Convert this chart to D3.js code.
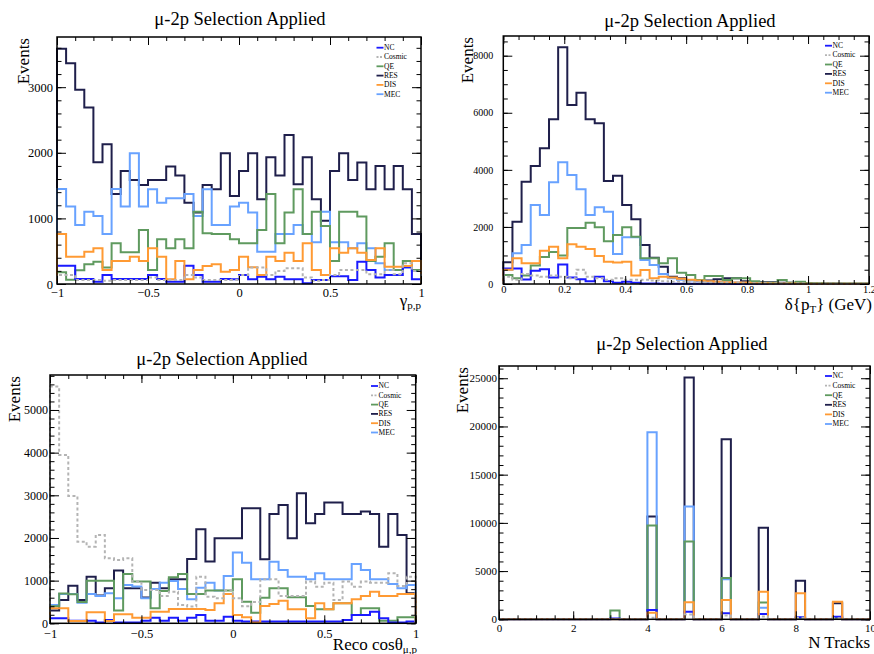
<!DOCTYPE html>
<html>
<head>
<meta charset="utf-8">
<script src="https://cdn.jsdelivr.net/npm/d3@7"></script>
<style>
  body { margin: 0; background: #fff; }
  #chart { width: 874px; height: 654px; }
  svg { display: block; }
  svg text { font-family: "Liberation Serif", "DejaVu Serif", "Times New Roman", serif !important; fill: #000; }
</style>
</head>
<body>
<div id="chart"></div>
<script>
// ---- data (events per bin) ----
const seriesNames = ["NC", "Cosmic", "QE", "RES", "DIS", "MEC"];

// panel 1: gamma_{p,p}, 40 bins from -1 to 1
const gamNC = [280, 280, 76, 76, 36, 137, 76, 76, 76, 76, 137, 76, 36, 36, 280, 137, 36, 36, 76, 71,
  137, 71, 110, 71, 110, 71, 71, 10, 60, 60, 120, 120, 60, 340, 214, 100, 137, 137, 254, 71];
const gamCosmic = [137, 137, 60, 60, 60, 50, 60, 60, 60, 60, 100, 60, 60, 60, 137, 100, 60, 60, 60, 60,
  137, 250, 250, 137, 200, 240, 240, 100, 50, 60, 137, 214, 214, 214, 150, 150, 214, 150, 315, 200];
const gamQE = [180, 65, 210, 300, 340, 250, 620, 483, 483, 824, 214, 681, 544, 681, 544, 1103, 773, 763, 763, 681,
  620, 620, 824, 1373, 620, 1088, 1444, 763, 1103, 885, 351, 1103, 1103, 1027, 351, 417, 620, 214, 351, 214];
const gamRES = [3585, 3366, 2960, 2690, 1856, 2130, 1373, 1724, 1586, 1510, 1586, 1586, 1790, 1653, 1240, 1088, 1510, 1444, 1993, 1342,
  1724, 1993, 1292, 1932, 1653, 2273, 1520, 1932, 1292, 966, 1724, 1993, 1586, 1851, 1444, 1800, 1444, 1800, 1444, 763];
const gamDIS = [763, 417, 417, 493, 544, 214, 351, 351, 417, 351, 544, 417, 71, 351, 71, 214, 275, 300, 188, 214,
  417, 254, 137, 417, 351, 478, 351, 620, 214, 137, 544, 478, 544, 478, 366, 544, 264, 264, 275, 351];
const gamMEC = [1449, 1180, 900, 1103, 1037, 763, 1449, 1180, 1993, 1180, 1444, 1240, 1307, 1307, 1373, 1037, 1444, 900, 900, 1180,
  1240, 1088, 493, 493, 763, 763, 900, 763, 636, 1103, 636, 636, 544, 620, 544, 315, 214, 214, 250, 200];

// panel 2: delta pT, 40 bins from 0 to 1.2 GeV
const dptNC = [540, 540, 160, 460, 520, 230, 680, 230, 170, 100, 257, 100, 47, 82, 40, 20, 20, 10, 10, 5,
  5, 5, 5, 5, 5, 0, 0, 0, 0, 0, 0, 0, 0, 0, 0, 0, 0, 0, 0, 0];
const dptCosmic = [250, 150, 350, 300, 250, 300, 250, 200, 500, 250, 200, 150, 200, 150, 150, 150, 120, 100, 80, 80,
  60, 60, 50, 50, 40, 40, 30, 30, 30, 20, 20, 20, 20, 10, 10, 10, 10, 10, 10, 10];
const dptQE = [315, 200, 300, 650, 950, 1120, 1000, 1960, 1960, 2149, 1986, 1500, 1717, 1986, 1658, 899, 899, 724, 899, 397,
  315, 140, 280, 280, 140, 199, 199, 100, 40, 40, 140, 40, 80, 30, 30, 20, 20, 20, 20, 20];
const dptRES = [760, 2184, 3586, 4135, 4754, 5770, 8293, 6272, 6704, 5770, 5630, 3609, 3796, 2768, 2266, 1367, 923, 607, 257, 199,
  140, 120, 120, 164, 199, 200, 100, 60, 60, 60, 40, 40, 30, 30, 20, 20, 20, 10, 10, 10];
const dptDIS = [500, 899, 724, 724, 1168, 1308, 899, 1390, 1308, 1226, 981, 783, 750, 783, 300, 490, 200, 250, 230, 180,
  150, 120, 100, 80, 60, 50, 50, 30, 30, 20, 20, 20, 10, 10, 10, 10, 5, 5, 5, 5];
const dptMEC = [500, 1075, 1367, 2768, 2418, 3562, 4263, 3819, 3317, 2418, 2686, 2534, 1051, 1635, 1635, 841, 666, 350, 200, 150,
  120, 100, 80, 60, 60, 50, 40, 40, 30, 20, 20, 20, 10, 10, 10, 10, 5, 5, 5, 5];

// panel 3: reco cos(theta_mu,p), 40 bins from -1 to 1
const cosNC = [117, 117, 62, 62, 62, 16, 78, 16, 16, 16, 62, 133, 62, 133, 62, 133, 195, 62, 62, 156,
  62, 40, 40, 40, 40, 40, 40, 40, 40, 40, 40, 40, 78, 195, 195, 273, 117, 20, 20, 40];
const cosCosmic = [5548, 3946, 2985, 1914, 1797, 2071, 1524, 1485, 1524, 977, 781, 781, 641, 742, 430, 391, 1094, 625, 586, 781,
  586, 400, 500, 1031, 1031, 640, 640, 640, 977, 859, 953, 547, 977, 859, 977, 953, 953, 1172, 875, 1094];
const cosQE = [400, 700, 680, 500, 1000, 1000, 1000, 300, 1156, 977, 977, 352, 758, 1078, 1156, 688, 688, 766, 766, 766,
  1031, 508, 250, 600, 820, 820, 609, 609, 406, 328, 328, 469, 469, 195, 352, 352, 62, 62, 141, 141];
const cosRES = [300, 547, 883, 547, 1094, 650, 820, 1235, 820, 820, 602, 953, 820, 1031, 1031, 1508, 2204, 1446, 1993, 1993,
  1993, 2696, 2696, 1500, 2563, 2774, 1993, 3047, 2344, 2563, 2829, 2829, 2563, 2563, 2618, 2563, 1797, 2563, 2071, 703];
const cosDIS = [350, 350, 55, 55, 258, 258, 55, 211, 211, 133, 133, 273, 273, 336, 336, 336, 336, 313, 469, 688,
  195, 141, 16, 406, 453, 531, 328, 328, 117, 469, 328, 469, 469, 563, 641, 742, 641, 641, 688, 688];
const cosMEC = [430, 688, 688, 484, 688, 640, 703, 586, 898, 860, 586, 805, 953, 992, 805, 563, 836, 953, 766, 1110,
  1657, 1422, 1031, 1031, 1445, 1250, 1094, 1094, 1031, 1172, 1031, 1031, 1031, 1391, 1250, 1031, 1031, 922, 820, 898];

// panel 4: N tracks, 40 bins from 0 to 10 (only whole numbers filled)
const trkN = [3, 4, 5, 6, 7, 8, 9];
const trkNC = [80, 968, 795, 622, 553, 207, 277];
const trkCosmic = [0, 150, 500, 400, 300, 150, 100];
const trkQE = [900, 9716, 8058, 4288, 1730, 150, 100];
const trkRES = [0, 10650, 25070, 18670, 9500, 4011, 1660];
const trkDIS = [0, 692, 1763, 2005, 2870, 2697, 1833];
const trkMEC = [0, 19400, 11690, 4150, 1200, 100, 50];

// tick labels
const gamXTicks = [-1, -0.5, 0, 0.5, 1], gamYTicks = [0, 1000, 2000, 3000];
const dptXTicks = [0, 0.2, 0.4, 0.6, 0.8, 1, 1.2], dptYTicks = [0, 2000, 4000, 6000, 8000];
const cosXTicks = [-1, -0.5, 0, 0.5, 1], cosYTicks = [0, 1000, 2000, 3000, 4000, 5000];
const trkXTicks = [0, 2, 4, 6, 8, 10], trkYTicks = [0, 5000, 10000, 15000, 20000, 25000];

const colors = { NC: "#1a1aff", Cosmic: "#b4b4b4", QE: "#5f9a5f", RES: "#1f1f4b", DIS: "#ff9a33", MEC: "#68a2ff" };
const drawOrder = ["RES", "MEC", "QE", "NC", "DIS", "Cosmic"];
const serif = '"Liberation Serif", "DejaVu Serif", "Times New Roman", serif';

const svg = d3.select("#chart").append("svg").attr("width", 874).attr("height", 654)
  .attr("font-family", serif);

function trkBins(vals) {
  const out = new Array(40).fill(0);
  trkN.forEach((n, i) => { out[n * 4] = vals[i]; });
  return out;
}

const fmt = d => d < 0 ? "\u2212" + Math.abs(d) : String(d);

function drawPanel(p) {
  const g = svg.append("g");
  const x = d3.scaleLinear().domain(p.xDomain).range([p.left, p.right]);
  const y = d3.scaleLinear().domain([0, p.yMax]).range([p.bottom, p.top]);

  // histograms
  const line = d3.line().x(d => x(d[0])).y(d => y(d[1])).curve(d3.curveStepAfter);
  drawOrder.forEach(name => {
    const vals = p.data[name];
    const n = vals.length;
    const edge = i => p.xDomain[0] + i * (p.xDomain[1] - p.xDomain[0]) / n;
    const pts = [[edge(0), 0]].concat(vals.map((v, i) => [edge(i), v]), [[edge(n), vals[n - 1]], [edge(n), 0]]);
    g.append("path")
      .attr("d", line(pts))
      .attr("fill", "none")
      .attr("stroke", colors[name])
      .attr("stroke-width", 2)
      .attr("stroke-dasharray", name === "Cosmic" ? "3,2.5" : null);
  });

  // axes with inward ticks on all four sides
  const xMinor = d3.range(p.xDomain[0], p.xDomain[1] + 1e-9, p.xMinor);
  const yMinor = d3.range(0, p.yMax, p.yMinor);
  const axes = [
    [d3.axisBottom(x).tickValues(p.xTicks).tickSize(-8).tickPadding(p.xPad).tickFormat(fmt), `translate(0,${p.bottom})`, p.xFont],
    [d3.axisBottom(x).tickValues(xMinor).tickSize(-4).tickFormat(""), `translate(0,${p.bottom})`],
    [d3.axisTop(x).tickValues(p.xTicks).tickSize(-8).tickFormat(""), `translate(0,${p.top})`],
    [d3.axisTop(x).tickValues(xMinor).tickSize(-4).tickFormat(""), `translate(0,${p.top})`],
    [d3.axisLeft(y).tickValues(p.yTicks).tickSize(-9).tickPadding(p.yPad).tickFormat(d3.format("d")), `translate(${p.left},0)`, p.yFont],
    [d3.axisLeft(y).tickValues(yMinor).tickSize(-4.5).tickFormat(""), `translate(${p.left},0)`],
    [d3.axisRight(y).tickValues(p.yTicks).tickSize(-9).tickFormat(""), `translate(${p.right},0)`],
    [d3.axisRight(y).tickValues(yMinor).tickSize(-4.5).tickFormat(""), `translate(${p.right},0)`]
  ];
  axes.forEach(([ax, tr, fs]) => {
    const a = g.append("g").attr("transform", tr).call(ax).attr("font-family", serif);
    a.select(".domain").remove();
    a.selectAll(".tick line").attr("stroke", "#000").attr("stroke-width", 1);
    if (fs) a.selectAll(".tick text").style("font-size", fs + "px").style("font-family", serif);
  });

  g.append("rect")
    .attr("x", p.left).attr("y", p.top)
    .attr("width", p.right - p.left).attr("height", p.bottom - p.top)
    .attr("fill", "none").attr("stroke", "#000").attr("stroke-width", 1.5);

  // title
  g.append("text").attr("x", p.titleX).attr("y", p.titleY)
    .attr("text-anchor", "middle").style("font-size", "18.5px").style("font-family", serif)
    .text("\u03bc-2p Selection Applied");

  // y title
  g.append("text")
    .attr("transform", `translate(${p.yTitleX},${p.top + 1}) rotate(-90)`)
    .attr("text-anchor", "end").style("font-size", "17px").style("font-family", serif)
    .text("Events");

  // x title
  const xt = g.append("text").attr("x", p.xTitleX).attr("y", p.xTitleY)
    .attr("text-anchor", "end").style("font-size", "17px").style("font-family", serif);
  p.xTitle.forEach(part => {
    const t = xt.append("tspan").text(part.t);
    if (part.sub) t.attr("baseline-shift", "-30%").style("font-size", "11px");
  });

  // legend
  const lg = g.append("g").attr("transform", `translate(${p.legX},${p.legY})`);
  seriesNames.forEach((name, i) => {
    const yy = i * p.legStep;
    lg.append("line").attr("x1", 0).attr("x2", 7).attr("y1", yy).attr("y2", yy)
      .attr("stroke", colors[name]).attr("stroke-width", 1.8)
      .attr("stroke-dasharray", name === "Cosmic" ? "2,1.5" : null);
    lg.append("text").attr("x", 7.5).attr("y", yy + 2.4)
      .style("font-size", "7.5px").style("font-family", serif).text(name);
  });
}

drawPanel({
  xDomain: [-1, 1], yMax: 3765, left: 57, right: 421, top: 37, bottom: 284,
  xTicks: gamXTicks, yTicks: gamYTicks, xMinor: 0.1, yMinor: 200,
  xPad: 4, yPad: 4, xFont: 12.5, yFont: 12.5,
  data: { NC: gamNC, Cosmic: gamCosmic, QE: gamQE, RES: gamRES, DIS: gamDIS, MEC: gamMEC },
  titleX: 240, titleY: 25, yTitleX: 29,
  xTitle: [{ t: "\u03b3" }, { t: "p,p", sub: true }], xTitleX: 421, xTitleY: 306,
  legX: 376.5, legY: 47.7, legStep: 9.3
});

drawPanel({
  xDomain: [0, 1.2], yMax: 8690, left: 503.3, right: 869, top: 36, bottom: 284,
  xTicks: dptXTicks, yTicks: dptYTicks, xMinor: 0.05, yMinor: 500,
  xPad: 2, yPad: 10, xFont: 10.5, yFont: 10,
  data: { NC: dptNC, Cosmic: dptCosmic, QE: dptQE, RES: dptRES, DIS: dptDIS, MEC: dptMEC },
  titleX: 690, titleY: 27, yTitleX: 473,
  xTitle: [{ t: "\u03b4{p" }, { t: "T", sub: true }, { t: "} (GeV)" }], xTitleX: 872, xTitleY: 310,
  legX: 825, legY: 45.7, legStep: 9.4
});

drawPanel({
  xDomain: [-1, 1], yMax: 5820, left: 50, right: 415.7, top: 375, bottom: 623.3,
  xTicks: cosXTicks, yTicks: cosYTicks, xMinor: 0.1, yMinor: 200,
  xPad: 6, yPad: 2, xFont: 12.5, yFont: 12,
  data: { NC: cosNC, Cosmic: cosCosmic, QE: cosQE, RES: cosRES, DIS: cosDIS, MEC: cosMEC },
  titleX: 222, titleY: 365, yTitleX: 20,
  xTitle: [{ t: "Reco cos\u03b8" }, { t: "\u03bc,p", sub: true }], xTitleX: 417, xTitleY: 650,
  legX: 371, legY: 386, legStep: 9.3
});

drawPanel({
  xDomain: [0, 10], yMax: 26270, left: 499, right: 870, top: 366, bottom: 619.3,
  xTicks: trkXTicks, yTicks: trkYTicks, xMinor: 0.5, yMinor: 1000,
  xPad: 5, yPad: 2, xFont: 11, yFont: 11,
  data: { NC: trkBins(trkNC), Cosmic: trkBins(trkCosmic), QE: trkBins(trkQE), RES: trkBins(trkRES), DIS: trkBins(trkDIS), MEC: trkBins(trkMEC) },
  titleX: 682, titleY: 350, yTitleX: 468,
  xTitle: [{ t: "N Tracks" }], xTitleX: 870, xTitleY: 648,
  legX: 825, legY: 376, legStep: 9.6
});
</script>
</body>
</html>
